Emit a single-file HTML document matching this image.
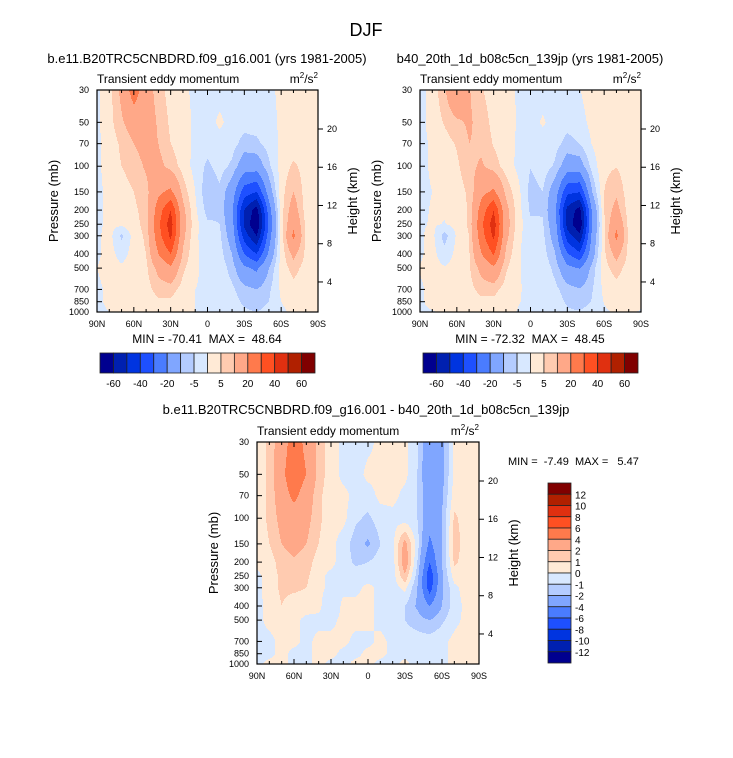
<!DOCTYPE html>
<html><head><meta charset="utf-8">
<style>
body{margin:0;background:#fff;}
svg{display:block;font-family:"Liberation Sans",Arial,sans-serif;}
text{white-space:pre;}
</style></head>
<body>
<svg id="fig" width="733" height="758" viewBox="0 0 733 758" xmlns="http://www.w3.org/2000/svg">
<rect width="733" height="758" fill="#fff"/>
<text x="366" y="36" font-size="18" text-anchor="middle">DJF</text>
</svg>
<script>
// ---- data ----
const lats = [90,80,70,60,50,40,30,20,10,0,-10,-20,-30,-40,-50,-60,-70,-80,-90];
const pLevels = [30,50,70,100,150,200,250,300,400,500,700,850,1000];
// Panel 1 field (rows = pressure levels, cols = latitudes 90N..90S)
const field1 = [
[-1,3,12,25,14,7,3,1,-1,-2,-2,-2,-2,-1,-1,1,2,2,2],
[-1,3,9,14,15,9,4,2,-1,-2,1,-2,-3,-3,-2,1,2,2,2],
[-1,2,6,10,13,10,5,2,-1,-3,-2,-3,-7,-6,-3,1,2,2,2],
[-1,2,5,7,11,12,8,3,-2,-6,-3,-6,-15,-15,-6,2,6,3,2],
[-1,1,3,5,8,18,22,8,0,-9,-6,-15,-35,-40,-15,3,10,3,1],
[-1,1,2,4,7,25,40,12,1,-7,-6,-18,-50,-65,-25,3,14,3,1],
[-1,1,1,3,7,28,45,13,2,-4,-5,-16,-52,-70,-28,2,18,4,1],
[-1,2,-6,2,6,26,42,12,1,-3,-4,-14,-45,-60,-25,2,22,4,1],
[-1,2,-2,2,5,20,30,9,1,-2,-3,-10,-30,-40,-18,2,12,4,1],
[0,2,1,2,4,12,18,6,1,-2,-2,-7,-18,-22,-10,2,7,3,1],
[-1,1,2,1,3,7,7,3,0,-1,-2,-4,-8,-10,-6,1,3,2,1],
[-1,1,2,1,2,4,4,2,0,-1,-2,-3,-6,-8,-5,0,2,3,1],
[-1,0,1,0,1,2,2,1,0,-1,-1,-2,-4,-5,-3,-1,1,1,0]
];
// Difference field (panel 1 minus panel 2)
const fieldDiff = [
[0.5,1.2,3,5,3.5,1.5,0.5,-0.3,-0.5,-0.3,0.3,0.3,0.3,-0.8,-3.5,-2.5,0.3,0.5,0.5],
[0.5,1.2,3.5,5.4,4,1.5,0.5,-0.3,-0.5,0.3,0.3,0.3,0.3,-1,-3.5,-2.5,0.3,0.5,0.5],
[0.5,1.2,3,4.5,3,1.2,0.5,0.3,-0.3,-0.5,0.3,0.3,-0.3,-1,-3.2,-2.2,0.5,0.5,0.5],
[0.5,1.2,2.5,3,2.5,1.2,0.5,0.3,-0.8,-1.2,-0.5,-0.3,-0.5,-1,-3,-2,1.2,0.5,0.5],
[0.3,1,2,2.5,2,1,0.3,-0.5,-1.5,-2.2,-1,-0.3,2.5,-0.5,-4.5,-2,1.5,0.5,0.3],
[0.3,0.5,1.5,1.8,1.5,0.5,0.3,-0.5,-1.2,-1,-0.5,-0.5,3,-1,-6,-2,1.2,0.5,0.3],
[-0.3,0.5,1.2,1.5,1.2,0.3,-0.3,-0.5,-0.5,-0.5,-0.5,-0.5,1.8,-1.5,-7.5,-2.2,0.5,0.5,0.3],
[-0.3,0.5,1.2,1.2,1,0.3,-0.3,-0.3,-0.3,0.3,-0.3,-0.5,0.3,-2,-7,-2.2,-0.3,0.5,0.3],
[-0.3,0.3,1,0.5,0.5,0.3,-1,0.3,0.3,0.3,-0.3,-0.5,-1,-2.2,-4,-2,-0.5,0.3,0.3],
[-0.3,0.3,0.5,0.3,-0.3,-0.3,-0.3,0.3,0.3,0.3,-0.3,-0.5,-1,-1.5,-2,-1.2,-0.3,0.3,0.3],
[-0.3,-0.3,0.3,0.3,-0.3,0.3,0.3,0.3,-0.3,-0.3,0.3,-0.3,-0.5,-0.5,-0.5,-0.3,0.3,0.5,0.3],
[-0.3,-0.3,0.3,-0.3,-0.3,0.3,0.3,-0.3,-0.3,0.3,0.3,-0.3,-0.3,-0.3,-0.3,-0.3,0.3,0.8,0.3],
[-0.3,0.3,0.3,-0.3,-0.3,0.3,-0.3,-0.3,0.3,0.3,-0.3,-0.3,0.3,-0.5,-0.3,-0.3,0.3,0.5,0.3]
];
const levelsMain = [-60,-50,-40,-30,-20,-10,-5,0,5,10,20,30,40,50,60];
const levelsDiff = [-12,-10,-8,-6,-4,-2,-1,0,1,2,4,6,8,10,12];
const cbLabelsMain = ["-60","-40","-20","-5","5","20","40","60"];
const cbLabelsDiff = ["12","10","8","6","4","2","1","0","-1","-2","-4","-6","-8","-10","-12"];
const palette = ["#00008f","#0020b0","#0034e0","#1e50ff","#4a7cff","#80a6ff","#b4ccff","#d8e8ff",
"#ffead6","#ffcbb0","#ffa888","#ff7a4c","#ff5022","#e03010","#b02000","#800000"];
const xTickLats = [90,60,30,0,-30,-60,-90];
const xTickLabels = ["90N","60N","30N","0","30S","60S","90S"];
const yTickP = [30,50,70,100,150,200,250,300,400,500,700,850,1000];
const zTicks = [4,8,12,16,20];
const field2 = field1.map((r,i)=>r.map((v,j)=>v - fieldDiff[i][j]));

const NS="http://www.w3.org/2000/svg";
const svg=document.getElementById('fig');
function mk(tag,attrs,parent){const e=document.createElementNS(NS,tag);for(const k in attrs)e.setAttribute(k,attrs[k]);(parent||svg).appendChild(e);return e;}
function txt(x,y,s,size,anchor,parent){const t=mk('text',{x:x,y:y,'font-size':size,'text-anchor':anchor||'start'},parent);t.textContent=s;return t;}

function sample(F,lat,lp){
  let fi=(90-lat)/10; fi=Math.max(0,Math.min(18,fi));
  let i0=Math.min(17,Math.floor(fi)), tx=fi-i0;
  let k=0; while(k<pLevels.length-2 && lp>Math.log(pLevels[k+1])) k++;
  let a=Math.log(pLevels[k]), b=Math.log(pLevels[k+1]);
  let ty=Math.max(0,Math.min(1,(lp-a)/(b-a)));
  const v00=F[k][i0],v01=F[k][i0+1],v10=F[k+1][i0],v11=F[k+1][i0+1];
  return (v00*(1-tx)+v01*tx)*(1-ty)+(v10*(1-tx)+v11*tx)*ty;
}
function colorIdx(v,levels){let i=0;while(i<levels.length&&v>=levels[i])i++;return i;}

function panel(F,levels,X0,Y0,W,H,name){
  const g=mk('g',{});
  
  
  const lp0=Math.log(30), lp1=Math.log(1000);
  const xOf=lat=>X0+(90-lat)/180*W;
  const yOf=p=>Y0+(Math.log(p)-lp0)/(lp1-lp0)*H;
  const fills=mk('g',{},g);
  
  
  for(let py=0;py<H;py++){
    const lp=lp0+(py+0.5)/H*(lp1-lp0);
    let start=0,cur=-1;
    for(let px=0;px<=W;px++){
      let c=-2;
      if(px<W){const lat=90-(px+0.5)/W*180;c=colorIdx(sample(F,lat,lp),levels);}
      if(c!==cur){
        if(cur>=0){const r=mk('rect',{x:X0+start,y:Y0+py,width:px-start+0.3,height:1.3,fill:palette[cur]},fills);
          
          }
        start=px;cur=c;
      }
    }
  }
  const fr=mk('rect',{x:X0,y:Y0,width:W,height:H,fill:'none',stroke:'#000','stroke-width':1.2},g);
  
  
  for(let lat=90;lat>=-90;lat-=10){
    const x=xOf(lat), major=(lat%30===0), L=major?5:3;
    mk('line',{x1:x,y1:Y0+H,x2:x,y2:Y0+H-L,stroke:'#000','stroke-width':1},g);
    mk('line',{x1:x,y1:Y0,x2:x,y2:Y0+L,stroke:'#000','stroke-width':1},g);
  }
  xTickLats.forEach((lat,i)=>{const t=txt(xOf(lat),Y0+H+15,xTickLabels[i],9,'middle',g);
    
    });
  yTickP.forEach(p=>{const y=yOf(p);
    mk('line',{x1:X0,y1:y,x2:X0+5,y2:y,stroke:'#000','stroke-width':1},g);
    const t=txt(X0-8,y+3,String(p),9,'end',g);
    
    });
  zTicks.forEach(z=>{const y=Y0+(39+9.56*(20-z))/222*H;
    mk('line',{x1:X0+W,y1:y,x2:X0+W+5,y2:y,stroke:'#000','stroke-width':1},g);
    const t=txt(X0+W+9,y+3,String(z),9,'start',g);
    
    });
  const yl=txt(0,0,'Pressure (mb)',13,'middle',g);
  yl.setAttribute('transform',`translate(${X0-39},${Y0+H/2}) rotate(-90)`);
  
  
  const zl=txt(0,0,'Height (km)',13,'middle',g);
  zl.setAttribute('transform',`translate(${X0+W+39},${Y0+H/2}) rotate(-90)`);
  
  
  const st=txt(X0,Y0-7,'Transient eddy momentum',12,'start',g);
  
  
  const un=mk('text',{x:X0+W,y:Y0-7,'font-size':12,'text-anchor':'end'},g);
  un.innerHTML='m<tspan dy="-5" font-size="8">2</tspan><tspan dy="5">/s</tspan><tspan dy="-5" font-size="8">2</tspan>';
  
  
  return g;
}

function hbar(X0,Y0,W,H,name){
  const g=mk('g',{});
  
  
  const n=palette.length,bw=W/n;
  palette.forEach((c,i)=>{const r=mk('rect',{x:X0+i*bw,y:Y0,width:bw,height:H,fill:c,stroke:'#222','stroke-width':0.8},g);
    
    });
  cbLabelsMain.forEach((s,i)=>{const t=txt(X0+(1+2*i)*bw,Y0+H+14,s,10,'middle',g);
    
    });
}
function vbar(X0,Y0,W,H,name){
  const g=mk('g',{});
  
  
  const n=palette.length,bh=H/n;
  palette.slice().reverse().forEach((c,i)=>{const r=mk('rect',{x:X0,y:Y0+i*bh,width:W,height:bh,fill:c,stroke:'#222','stroke-width':0.8},g);
    
    });
  cbLabelsDiff.forEach((s,i)=>{const t=txt(X0+W+4,Y0+(i+1)*bh+4,s,10,'start',g);
    
    });
}

function title(x,y,s,size,name,anchor){const t=txt(x,y,s,size,anchor||'middle');
  
  }

title(207,63,'b.e11.B20TRC5CNBDRD.f09_g16.001 (yrs 1981-2005)',13,'panel1-title');
title(530,63,'b40_20th_1d_b08c5cn_139jp (yrs 1981-2005)',13,'panel2-title');
panel(field1,levelsMain,97,90,221,222,'panel1-plot');
panel(field2,levelsMain,420,90,221,222,'panel2-plot');
title(207,343,'MIN = -70.41  MAX =  48.64',12,'panel1-minmax');
title(530,343,'MIN = -72.32  MAX =  48.45',12,'panel2-minmax');
hbar(100,353,215,20,'panel1-colorbar');
hbar(423,353,215,20,'panel2-colorbar');
title(366,414,'b.e11.B20TRC5CNBDRD.f09_g16.001 - b40_20th_1d_b08c5cn_139jp',13,'panel3-title');
panel(fieldDiff,levelsDiff,257,442,222,222,'panel3-plot');
title(508,465,'MIN =  -7.49  MAX =   5.47',11,'panel3-minmax','start');
vbar(548,483,23,180,'panel3-colorbar');
</script>
</body></html>
